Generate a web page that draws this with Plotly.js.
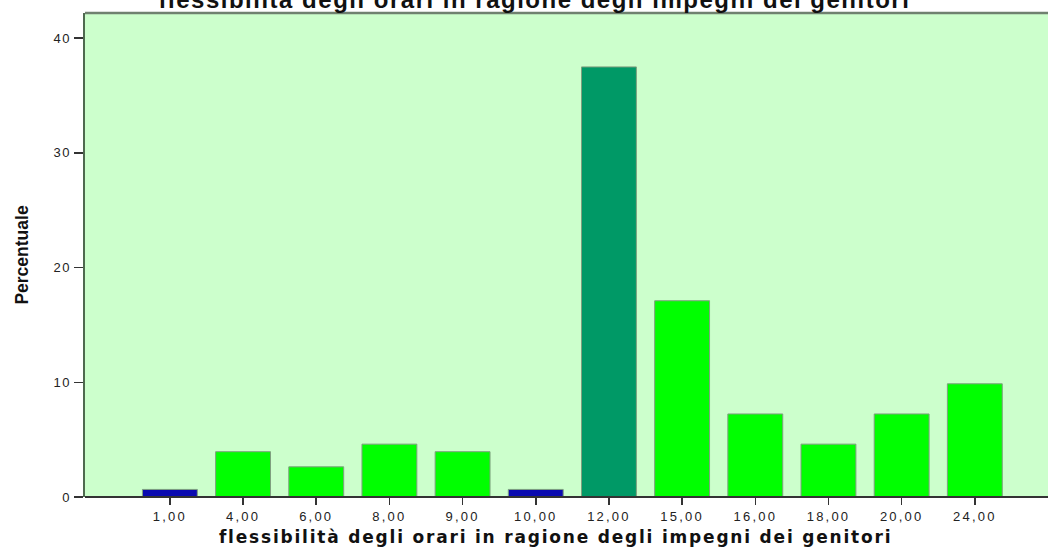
<!DOCTYPE html>
<html>
<head>
<meta charset="utf-8">
<script src="https://cdn.plot.ly/plotly-3.0.1.min.js"></script>
<style>
html,body{margin:0;padding:0;background:#fff;}
#chart{width:1048px;height:550px;}
#chart .gtitle{letter-spacing:1.5px;}
#chart .annotation-text{letter-spacing:1.8px;}
#chart .xtick text{letter-spacing:2.2px;}
#chart .ytick text{letter-spacing:1.5px;}
</style>
</head>
<body>
<div id="chart"></div>
<script>
const categories = ["1,00","4,00","6,00","8,00","9,00","10,00","12,00","15,00","16,00","18,00","20,00","24,00"];
const percentuale = [0.66, 3.95, 2.63, 4.61, 3.95, 0.66, 37.5, 17.11, 7.24, 4.61, 7.24, 9.87];
const barColors = ["#0a0ab0","#00ff00","#00ff00","#00ff00","#00ff00","#0a0ab0","#009966","#00ff00","#00ff00","#00ff00","#00ff00","#00ff00"];
const titleText = "flessibilità degli orari in ragione degli impegni dei genitori";
const xTitleText = "flessibilità degli orari in ragione degli impegni dei genitori";
const yTitleText = "Percentuale";
const yTicks = [0, 10, 20, 30, 40];

const trace = {
  type: "bar",
  x: categories,
  y: percentuale,
  marker: {color: barColors, line: {color: "#7f9f7f", width: 1}},
  hoverinfo: "x+y"
};

const layout = {
  width: 1048, height: 550,
  margin: {l: 85, r: 0, t: 13, b: 53, pad: 0},
  paper_bgcolor: "#ffffff",
  plot_bgcolor: "#ccffcc",
  bargap: 0.25,
  showlegend: false,
  font: {family: "Liberation Sans, Arial, sans-serif", color: "#222"},
  title: {
    text: "<b>" + titleText + "</b>",
    font: {family: "Liberation Sans, Arial, sans-serif", size: 24, color: "#111"},
    x: 0.51, xref: "container", xanchor: "center",
    y: 1.0, yref: "container", yanchor: "middle"
  },
  xaxis: {
    type: "category",
    range: [-1.16, 12.0],
    showgrid: false, zeroline: false,
    showline: false,
    ticks: "outside", ticklen: 7, tickwidth: 1.5, tickcolor: "#333",
    tickfont: {size: 13, color: "#222"}
  },
  yaxis: {
    range: [0, 42.2],
    tickvals: yTicks,
    showgrid: false, zeroline: false,
    showline: true, linecolor: "#4f6a4f", linewidth: 2.5,
    ticks: "outside", ticklen: 9, tickwidth: 1.5, tickcolor: "#333",
    tickfont: {size: 13, color: "#222"},
    title: {text: "<b>" + yTitleText + "</b>", font: {family: "Liberation Sans Narrow, Arial Narrow, Liberation Sans, sans-serif", size: 17.5, color: "#111"}, standoff: 24}
  },
  annotations: [
    {text: "<b>" + xTitleText + "</b>", xref: "paper", yref: "paper", x: 0.489, y: -0.083,
     xanchor: "center", yanchor: "middle", showarrow: false,
     font: {family: "DejaVu Sans, Verdana, sans-serif", size: 17, color: "#111"}}
  ],
  shapes: [
    {type: "line", xref: "paper", yref: "paper", x0: 0, x1: 1, y0: 1, y1: 1, line: {color: "#6f816f", width: 2.5}},
    {type: "line", xref: "paper", yref: "paper", x0: 0, x1: 1, y0: 0, y1: 0, line: {color: "#333333", width: 2}}
  ]
};

Plotly.newPlot("chart", [trace], layout, {displayModeBar: false, staticPlot: true});
</script>
</body>
</html>
